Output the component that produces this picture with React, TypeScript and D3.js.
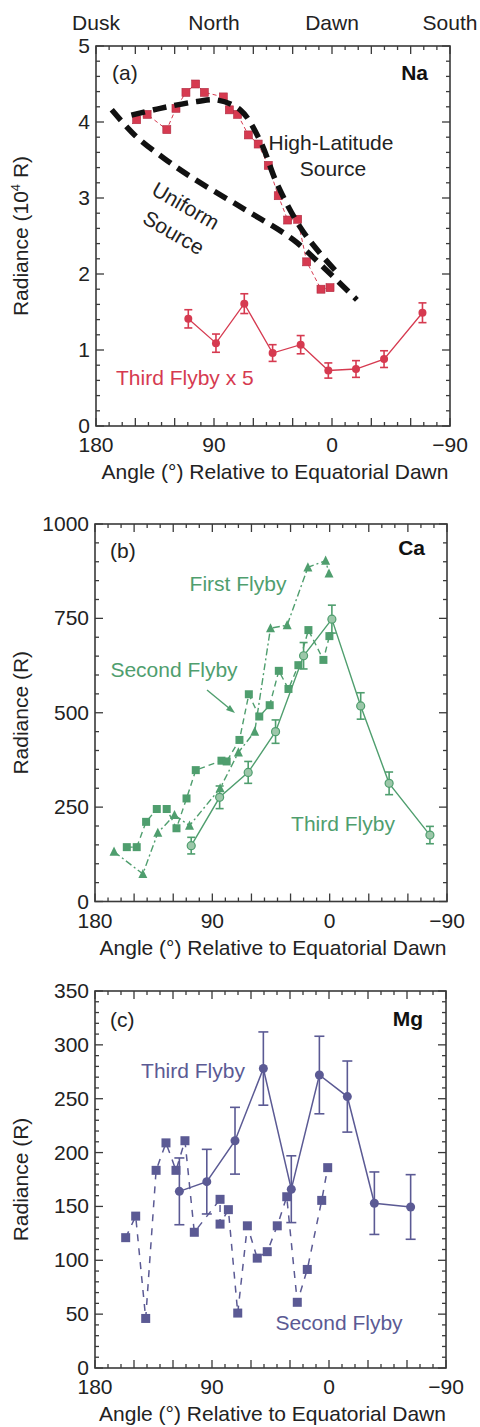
import React from 'react';
import * as d3 from 'd3';

const W = 480;
const H = 1427;
const FONT = '"Liberation Sans", Arial, Helvetica, sans-serif';
const FS = 21;

const TOP_LABELS = ['Dusk', 'North', 'Dawn', 'South'];
const TOP_LABEL_ANGLES = [180, 90, 0, -90];
const X_TICK_LABELS = [180, 90, 0, -90];
const X_TITLE = 'Angle (°) Relative to Equatorial Dawn';

// ---------- Panel (a) Na ----------
const naSecondAngle = [149, 141, 126, 119, 111.4, 104, 97.4, 82.9, 78.3, 72, 63.8, 56.3, 48.6, 41, 33.8, 26.2, 19.3, 8.4, 1.5];
const naSecondValue = [4.03, 4.1, 3.9, 4.18, 4.39, 4.5, 4.39, 4.33, 4.16, 4.1, 3.83, 3.71, 3.43, 3.03, 2.71, 2.72, 2.16, 1.8, 1.82];
const naHighLatAngle = [153, 131, 103, 88, 70, 55, 42, 24.4, 9, -5];
const naHighLatValue = [4.09, 4.18, 4.27, 4.29, 4.16, 3.76, 3.19, 2.62, 2.27, 2.0];
const naUniformAngle = [168, 150, 128, 106, 67.6, 29.5, 6, -19];
const naUniformValue = [4.16, 3.82, 3.52, 3.26, 2.86, 2.45, 2.08, 1.66];
const naThirdAngle = [109.6, 88.5, 66.9, 45.3, 23.9, 2.8, -18.3, -39.7, -69];
const naThirdValue = [1.41, 1.09, 1.61, 0.96, 1.07, 0.73, 0.75, 0.88, 1.49];
const naThirdErr = [0.12, 0.12, 0.13, 0.11, 0.12, 0.1, 0.11, 0.11, 0.13];
const naYTicks = [0, 1, 2, 3, 4, 5];

// ---------- Panel (b) Ca ----------
const caFirstAngle = [165.4, 143.3, 131.8, 119, 107.5, 84, 70, 57.5, 45.4, 32.6, 16.7, 3.1, 0.5];
const caFirstValue = [132, 73, 182, 229, 201, 300, 395, 450, 724, 732, 885, 903, 869];
const caSecondAngle = [155.6, 148, 140.8, 132.6, 125, 117.5, 109.8, 102.7, 83, 79, 69.2, 62, 54, 46, 39, 31.6, 24, 16.3, 4.8, 0.2];
const caSecondValue = [144, 144, 211, 245, 245, 194, 273, 348, 373, 371, 428, 549, 490, 520, 611, 563, 626, 719, 640, 703];
const caThirdAngle = [106.2, 84.4, 62.5, 41.5, 20, -1.7, -23.8, -45.6, -76.9];
const caThirdValue = [148, 276, 342, 450, 651, 748, 518, 313, 176];
const caThirdErr = [22, 30, 29, 31, 35, 37, 35, 30, 23];
const caYTicks = [0, 250, 500, 750, 1000];

// ---------- Panel (c) Mg ----------
const mgSecondAngle = [156.4, 148.7, 141, 133, 125.4, 117.7, 110.8, 103.6, 83.8, 83.8, 77.4, 70.2, 62.8, 55.2, 47.5, 39.8, 32.5, 24.4, 16.7, 5.6, 1];
const mgSecondValue = [121, 141, 46, 183.5, 209, 183.5, 211, 126, 156.6, 133.6, 147, 51, 132, 102, 108, 132, 159, 61, 91.5, 155.6, 186];
const mgThirdAngle = [115.1, 94, 72.3, 50.5, 29, 7.4, -14.1, -34.9, -62.8];
const mgThirdValue = [164, 173, 211, 278, 166, 272, 252, 153, 149.5];
const mgThirdErr = [31, 30, 31, 34, 31, 36, 33, 29, 30];
const mgYTicks = [0, 50, 100, 150, 200, 250, 300, 350];

const RED = '#d63a50';
const GREEN = '#4f9e6e';
const PURPLE = '#5b5a94';
const FRAME = '#3a3a3a';
const TXT = '#222';

type FrameProps = {
  x: d3.ScaleLinear<number, number>;
  y: d3.ScaleLinear<number, number>;
  yTicks: number[];
  yMinorStep: number;
  yTitle: React.ReactNode;
};

function Frame({ x, y, yTicks, yMinorStep, yTitle }: FrameProps) {
  const [l, r] = x.range();
  const [b, t] = y.range();
  const xMinor = d3.range(-90, 181, 10);
  const [y0, y1] = y.domain();
  const yMinor = d3.range(y0, y1 + 1e-9, yMinorStep);
  const isMajorX = (a: number) => Math.abs(a % 30) < 1e-6;
  const isMajorY = (v: number) => yTicks.some((tv) => Math.abs(tv - v) < 1e-6);
  return (
    <g>
      <rect x={l} y={t} width={r - l} height={b - t} fill="none" stroke={FRAME} strokeWidth={1.6} />
      {xMinor.map((a) => {
        const len = isMajorX(a) ? 8 : 4;
        const px = x(a);
        return (
          <g key={'xt' + a}>
            <line x1={px} x2={px} y1={b} y2={b - len} stroke={FRAME} strokeWidth={1.3} />
            <line x1={px} x2={px} y1={t} y2={t + len} stroke={FRAME} strokeWidth={1.3} />
          </g>
        );
      })}
      {yMinor.map((v) => {
        const len = isMajorY(v) ? 8 : 4;
        const py = y(v);
        return (
          <g key={'yt' + v}>
            <line x1={l} x2={l + len} y1={py} y2={py} stroke={FRAME} strokeWidth={1.3} />
            <line x1={r} x2={r - len} y1={py} y2={py} stroke={FRAME} strokeWidth={1.3} />
          </g>
        );
      })}
      {yTicks.map((v) => (
        <text key={'yl' + v} x={l - 6} y={y(v) + 7} textAnchor="end" fontSize={FS} fill={TXT}>
          {v}
        </text>
      ))}
      {X_TICK_LABELS.map((a) => (
        <text key={'xl' + a} x={x(a)} y={b + 26} textAnchor="middle" fontSize={FS} fill={TXT}>
          {a < 0 ? '\u2212' + Math.abs(a) : a}
        </text>
      ))}
      <text x={(l + r) / 2 + 2} y={b + 53} textAnchor="middle" fontSize={FS} fill={TXT}>
        {X_TITLE}
      </text>
      <text transform={`translate(28,${(t + b) / 2}) rotate(-90)`} textAnchor="middle" fontSize={FS} fill={TXT}>
        {yTitle}
      </text>
    </g>
  );
}

function ErrorBars({ xs, ys, es, x, y, color, cap }: any) {
  return (
    <g>
      {xs.map((a: number, i: number) => {
        const px = x(a);
        const top = y(ys[i] + es[i]);
        const bot = y(ys[i] - es[i]);
        return (
          <g key={i} stroke={color} strokeWidth={1.6}>
            <line x1={px} x2={px} y1={top} y2={bot} />
            <line x1={px - cap} x2={px + cap} y1={top} y2={top} />
            <line x1={px - cap} x2={px + cap} y1={bot} y2={bot} />
          </g>
        );
      })}
    </g>
  );
}

function linePath(xs: number[], ys: number[], x: any, y: any, curve?: any) {
  const pts: [number, number][] = xs.map((a, i) => [x(a), y(ys[i])]);
  const gen = d3.line();
  if (curve) gen.curve(curve);
  return gen(pts) || '';
}

function PanelA() {
  const x = d3.scaleLinear().domain([180, -90]).range([96, 450]);
  const y = d3.scaleLinear().domain([0, 5]).range([426, 46]);
  return (
    <g>
      <Frame
        x={x}
        y={y}
        yTicks={naYTicks}
        yMinorStep={0.2}
        yTitle={
          <>
            Radiance (10
            <tspan fontSize={13} dy={-8}>4</tspan>
            <tspan dy={8}> R)</tspan>
          </>
        }
      />
      <path d={linePath(naSecondAngle, naSecondValue, x, y)} fill="none" stroke={RED} strokeWidth={1} strokeDasharray="4,3" />
      {naSecondAngle.map((a, i) => (
        <rect key={i} x={x(a) - 4} y={y(naSecondValue[i]) - 4} width={8} height={8} fill={RED} stroke="#b02a40" strokeWidth={0.6} />
      ))}
      <path d={linePath(naHighLatAngle, naHighLatValue, x, y, d3.curveCatmullRom)} fill="none" stroke="#111" strokeWidth={5.5} strokeDasharray="14,8" />
      <path d={linePath(naUniformAngle, naUniformValue, x, y, d3.curveCatmullRom)} fill="none" stroke="#111" strokeWidth={5.5} strokeDasharray="14,8" />
      <path d={linePath(naThirdAngle, naThirdValue, x, y)} fill="none" stroke={RED} strokeWidth={1.3} />
      <ErrorBars xs={naThirdAngle} ys={naThirdValue} es={naThirdErr} x={x} y={y} color={RED} cap={4} />
      {naThirdAngle.map((a, i) => (
        <circle key={i} cx={x(a)} cy={y(naThirdValue[i])} r={4} fill={RED} />
      ))}
      {TOP_LABELS.map((s, i) => (
        <text key={s} x={x(TOP_LABEL_ANGLES[i])} y={29.5} textAnchor="middle" fontSize={FS} fill={TXT}>
          {s}
        </text>
      ))}
      <text x={112} y={80} fontSize={FS} fill={TXT}>(a)</text>
      <text x={428} y={80} fontSize={FS} fontWeight="bold" textAnchor="end" fill="#111">Na</text>
      <text x={331} y={150} fontSize={FS} textAnchor="middle" fill={TXT}>High-Latitude</text>
      <text x={333} y={176} fontSize={FS} textAnchor="middle" fill={TXT}>Source</text>
      <text transform="translate(182,212) rotate(30)" fontSize={FS} textAnchor="middle" fill={TXT}>Uniform</text>
      <text transform="translate(170,239) rotate(30)" fontSize={FS} textAnchor="middle" fill={TXT}>Source</text>
      <text x={116} y={385} fontSize={FS} fill={RED}>Third Flyby x 5</text>
    </g>
  );
}

function Triangle({ cx, cy, s, color }: any) {
  const h = s * 0.9;
  return <path d={`M${cx},${cy - h / 2 - 1}L${cx + s / 2},${cy + h / 2}L${cx - s / 2},${cy + h / 2}Z`} fill={color} />;
}

function PanelB() {
  const x = d3.scaleLinear().domain([180, -90]).range([95, 447]);
  const y = d3.scaleLinear().domain([0, 1000]).range([901.5, 524]);
  const arrowStart: [number, number] = [207, 690];
  const arrowEnd: [number, number] = [235, 713];
  return (
    <g>
      <Frame x={x} y={y} yTicks={caYTicks} yMinorStep={50} yTitle="Radiance (R)" />
      <path d={linePath(caFirstAngle, caFirstValue, x, y)} fill="none" stroke={GREEN} strokeWidth={1.4} strokeDasharray="7,3,2,3" />
      <path d={linePath(caSecondAngle, caSecondValue, x, y)} fill="none" stroke={GREEN} strokeWidth={1.4} strokeDasharray="6,4" />
      <path d={linePath(caThirdAngle, caThirdValue, x, y)} fill="none" stroke={GREEN} strokeWidth={1.4} />
      {caFirstAngle.map((a, i) => (
        <Triangle key={i} cx={x(a)} cy={y(caFirstValue[i])} s={9} color={GREEN} />
      ))}
      {caSecondAngle.map((a, i) => (
        <rect key={i} x={x(a) - 4} y={y(caSecondValue[i]) - 4} width={8} height={8} fill={GREEN} />
      ))}
      <ErrorBars xs={caThirdAngle} ys={caThirdValue} es={caThirdErr} x={x} y={y} color={GREEN} cap={4} />
      {caThirdAngle.map((a, i) => (
        <circle key={i} cx={x(a)} cy={y(caThirdValue[i])} r={4} fill="#9cc7a9" stroke={GREEN} strokeWidth={1.2} />
      ))}
      <line x1={arrowStart[0]} y1={arrowStart[1]} x2={arrowEnd[0] - 4} y2={arrowEnd[1] - 3.3} stroke={GREEN} strokeWidth={1.4} />
      <path d={`M${arrowEnd[0]},${arrowEnd[1]}L${arrowEnd[0] - 9},${arrowEnd[1] - 3}L${arrowEnd[0] - 5},${arrowEnd[1] - 8}Z`} fill={GREEN} />
      <text x={110} y={558} fontSize={FS} fill={TXT}>(b)</text>
      <text x={425} y={555} fontSize={FS} fontWeight="bold" textAnchor="end" fill="#111">Ca</text>
      <text x={238} y={591} fontSize={FS} textAnchor="middle" fill={GREEN}>First Flyby</text>
      <text x={174} y={677} fontSize={FS} textAnchor="middle" fill={GREEN}>Second Flyby</text>
      <text x={343} y={831} fontSize={FS} textAnchor="middle" fill={GREEN}>Third Flyby</text>
    </g>
  );
}

function PanelC() {
  const x = d3.scaleLinear().domain([180, -90]).range([95, 446]);
  const y = d3.scaleLinear().domain([0, 350]).range([1368, 991]);
  return (
    <g>
      <Frame x={x} y={y} yTicks={mgYTicks} yMinorStep={10} yTitle="Radiance (R)" />
      <path d={linePath(mgSecondAngle, mgSecondValue, x, y)} fill="none" stroke={PURPLE} strokeWidth={1.5} strokeDasharray="7,7" />
      {mgSecondAngle.map((a, i) => (
        <rect key={i} x={x(a) - 4.5} y={y(mgSecondValue[i]) - 4.5} width={9} height={9} fill={PURPLE} />
      ))}
      <path d={linePath(mgThirdAngle, mgThirdValue, x, y)} fill="none" stroke={PURPLE} strokeWidth={1.5} />
      <ErrorBars xs={mgThirdAngle} ys={mgThirdValue} es={mgThirdErr} x={x} y={y} color={PURPLE} cap={5} />
      {mgThirdAngle.map((a, i) => (
        <circle key={i} cx={x(a)} cy={y(mgThirdValue[i])} r={4.5} fill={PURPLE} />
      ))}
      <text x={110} y={1027} fontSize={FS} fill={TXT}>(c)</text>
      <text x={423} y={1026} fontSize={FS} fontWeight="bold" textAnchor="end" fill="#111">Mg</text>
      <text x={193} y={1078} fontSize={FS} textAnchor="middle" fill={PURPLE}>Third Flyby</text>
      <text x={339} y={1330} fontSize={FS} textAnchor="middle" fill={PURPLE}>Second Flyby</text>
    </g>
  );
}

export default function App() {
  return (
    <svg
      width={W}
      height={H}
      viewBox={`0 0 ${W} ${H}`}
      style={{ position: 'absolute', left: 0, top: 0, background: '#fff', fontFamily: FONT }}
    >
      <rect x={0} y={0} width={W} height={H} fill="#fff" />
      <PanelA />
      <PanelB />
      <PanelC />
    </svg>
  );
}
